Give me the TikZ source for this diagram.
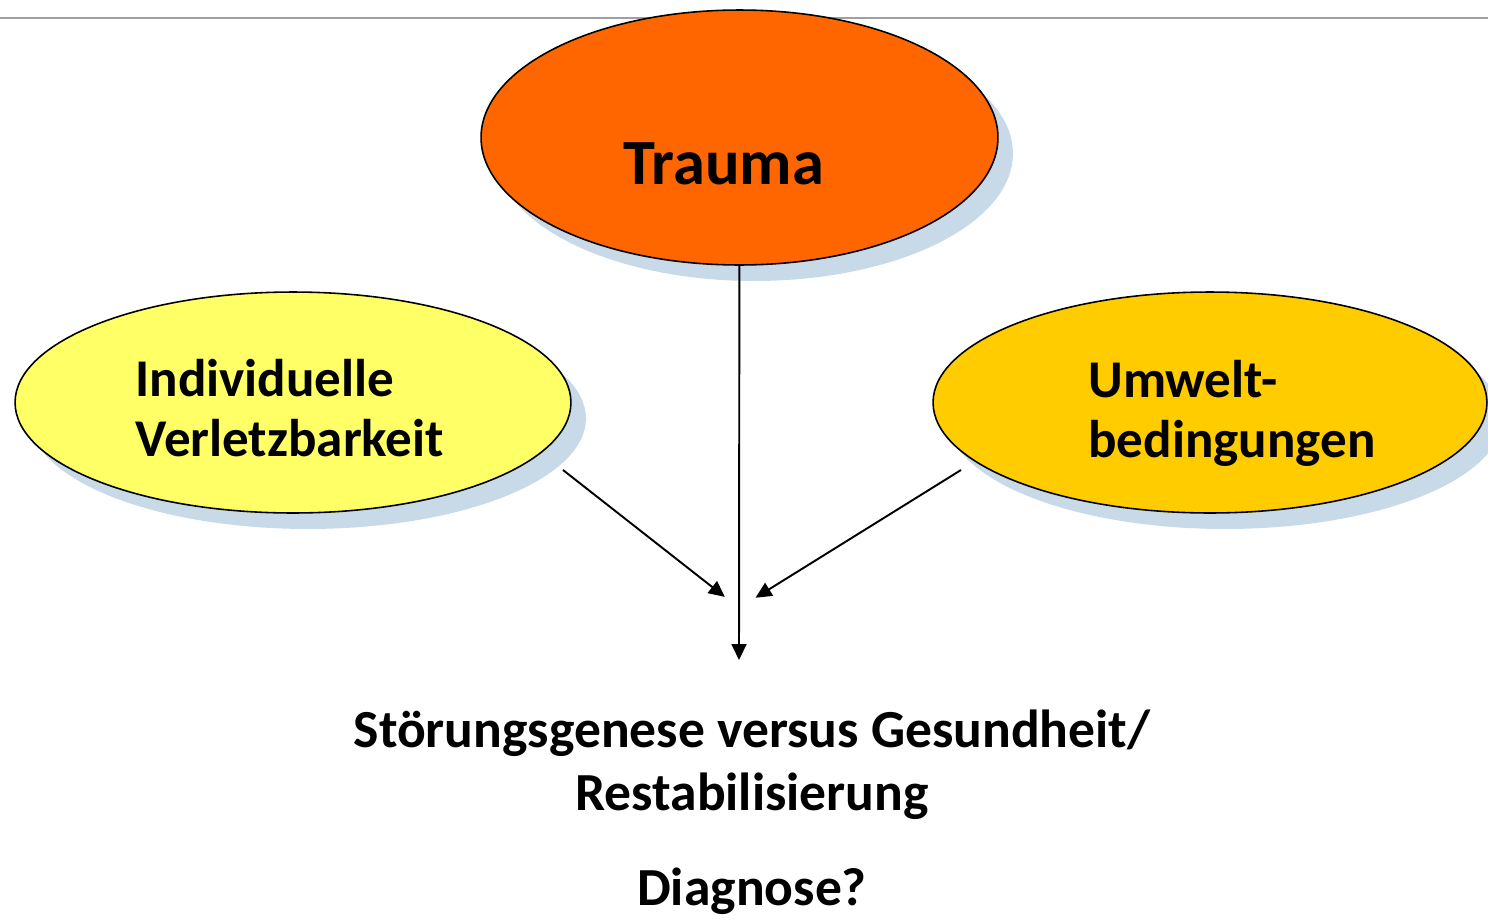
\documentclass[tikz,border=0pt]{standalone}
\usepackage{fontspec}
\setmainfont{Carlito}
\usetikzlibrary{shapes.geometric, shadows, arrows.meta}
\definecolor{traumaorange}{HTML}{FF6600}
\definecolor{softyellow}{HTML}{FFFF66}
\definecolor{darkyellow}{HTML}{FFCC00}
\definecolor{shadowblue}{HTML}{C8D9E7}
\definecolor{rulegray}{HTML}{A0A0A0}

\begin{document}
\begin{tikzpicture}[x=0.02cm,y=-0.02cm,>={Triangle[length=0.32cm,width=0.3cm]},
  blob/.style={ellipse,draw,line width=0.9pt,inner sep=0pt,
    drop shadow={shadow xshift=0.3cm,shadow yshift=-0.32cm,fill=shadowblue,opacity=1}},
  txt/.style={font=\bfseries\fontsize{30.2}{33.6}\selectfont,inner sep=0pt}]
\useasboundingbox (0,0) rectangle (1488,920);
\draw[rulegray,line width=1.2pt] (0,18) -- (1488,18);

% the three factors
\node[blob,fill=traumaorange,minimum width=10.34cm,minimum height=5.1cm] (trauma) at (739.5,137.5) {};
\node[blob,fill=softyellow,minimum width=11.12cm,minimum height=4.42cm] (indiv) at (293,402.5) {};
\node[blob,fill=darkyellow,minimum width=11.08cm,minimum height=4.42cm] (umwelt) at (1210,402.5) {};

\node[txt,font=\bfseries\fontsize{36.7}{40}\selectfont,anchor=base west] (traumatext) at (623,184) {Trauma};
\node[txt,align=left,anchor=base west] (indivtext) at (135,456) {Individuelle\\Verletzbarkeit};
\node[txt,align=left,anchor=base west] (umwelttext) at (1088,457) {Umwelt-\\bedingungen};

% outcome
\node[txt,font=\bfseries\fontsize{30.5}{35.8}\selectfont,align=center,anchor=base] (outcome) at (752,810) {Störungsgenese versus Gesundheit/\\Restabilisierung};
\node[txt,font=\bfseries\fontsize{30.5}{35.8}\selectfont,anchor=base] (diagnose) at (752,905) {Diagnose?};

\coordinate (indivout) at (563,470);
\coordinate (umweltout) at (961,470);
\coordinate (focus) at (739,608);
\coordinate (result) at (739,660);

\path[->,line width=1.1pt]
(trauma) edge (result)
(indivout) edge[shorten >=0.36cm] (focus)
(umweltout) edge[shorten >=0.39cm] (focus);
\end{tikzpicture}
\end{document}
